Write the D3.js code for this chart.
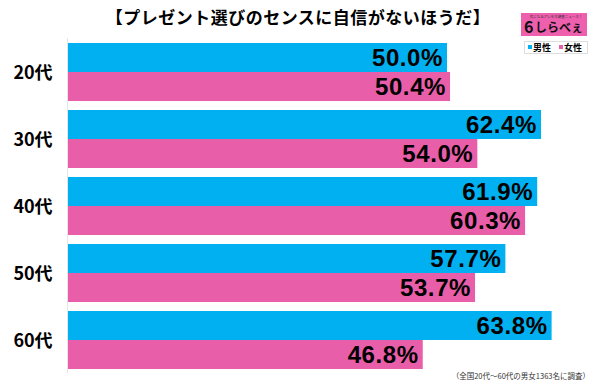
<!DOCTYPE html>
<html><head><meta charset="utf-8">
<script src="https://cdn.jsdelivr.net/npm/d3@7"></script>
<style>body{margin:0;background:#fff;}svg{display:block;}</style>
</head><body>
<svg id="c" width="600" height="384"></svg>
<script>
const categories = ["20代","30代","40代","50代","60代"];
const seriesNames = ["男性","女性"];
const male = [50.0, 62.4, 61.9, 57.7, 63.8];
const female = [50.4, 54.0, 60.3, 53.7, 46.8];
const title = "【プレゼント選びのセンスに自信がないほうだ】";
const note = "（全国20代～60代の男女1363名に調査）";
const colors = ["#00b0f0", "#e95ea9"];

const svg = d3.select("#c");
const font = "'Noto Sans CJK JP','Liberation Sans',sans-serif";

const x = d3.scaleLinear().domain([0, 70]).range([68, 68 + 7.58 * 70]);
const y = d3.scaleBand().domain(categories).range([38.5, 373.5]).paddingInner(0.134).paddingOuter(0.067);
const ys = d3.scaleBand().domain(seriesNames).range([0, y.bandwidth()]);

const data = categories.map((c, i) => ({c, vals: [male[i], female[i]]}));

// axis line
svg.append("line").attr("x1", 67.5).attr("x2", 67.5).attr("y1", 38).attr("y2", 373)
  .attr("stroke", "#e6e6e6").attr("stroke-width", 1);

const g = svg.selectAll("g.cat").data(data).enter().append("g")
  .attr("transform", d => `translate(0,${y(d.c)})`);

g.selectAll("rect").data(d => d.vals.map((v, j) => ({v, s: seriesNames[j], j}))).enter()
  .append("rect")
  .attr("x", x(0)).attr("y", d => ys(d.s))
  .attr("width", d => x(d.v) - x(0)).attr("height", ys.bandwidth())
  .attr("fill", d => colors[d.j]);

g.selectAll("text.val").data(d => d.vals.map((v, j) => ({v, s: seriesNames[j], j}))).enter()
  .append("text").attr("class", "val")
  .attr("x", d => x(d.v) - 4).attr("y", d => ys(d.s) + ys.bandwidth() / 2 + 8.5)
  .attr("text-anchor", "end")
  .attr("font-family", "'Liberation Sans',Arial,sans-serif").attr("font-weight", "bold")
  .attr("font-size", 24).attr("letter-spacing", 0.6).attr("fill", "#000")
  .text(d => d.v.toFixed(1) + "%");

// category labels
g.append("text").attr("x", 33).attr("y", y.bandwidth() / 2 + 7)
  .attr("text-anchor", "middle").attr("font-family", font).attr("font-weight", "bold")
  .attr("font-size", 18).attr("fill", "#000").text(d => d.c);

// title
svg.append("text").attr("x", 298).attr("y", 24).attr("text-anchor", "middle")
  .attr("font-family", font).attr("font-weight", "bold").attr("font-size", 17)
  .attr("letter-spacing", 0.5).attr("fill", "#000").text(title);

// logo
const logo = svg.append("g");
logo.append("rect").attr("x", 521).attr("y", 13).attr("width", 66).attr("height", 23).attr("fill", "#ee5fae");
logo.append("text").attr("x", 556).attr("y", 18).attr("text-anchor", "middle")
  .attr("font-family", font).attr("font-size", 3.5).attr("fill", "#333").text("気になるアレを大調査ニュース！");
logo.append("text").attr("x", 524).attr("y", 33).attr("font-family", font).attr("font-weight", "bold")
  .attr("font-size", 16).attr("fill", "#111").text("6");
logo.append("text").attr("x", 535).attr("y", 32).attr("font-family", font).attr("font-weight", "bold")
  .attr("font-size", 12).attr("fill", "#111").text("しらべぇ");

// legend
const lg = svg.append("g");
lg.append("rect").attr("x", 524.5).attr("y", 41.5).attr("width", 63).attr("height", 12)
  .attr("fill", "#fff").attr("stroke", "#ddd");
seriesNames.forEach((s, i) => {
  const lx = 528 + i * 31;
  lg.append("rect").attr("x", lx).attr("y", 45).attr("width", 4).attr("height", 4).attr("fill", colors[i]);
  lg.append("text").attr("x", lx + 5).attr("y", 51).attr("font-family", font).attr("font-weight", "bold")
    .attr("font-size", 9).attr("fill", "#000").text(s);
});

// footnote
svg.append("text").attr("x", 590).attr("y", 379).attr("text-anchor", "end")
  .attr("font-family", font).attr("font-size", 7.5).attr("fill", "#333").text(note);
</script>
</body></html>
